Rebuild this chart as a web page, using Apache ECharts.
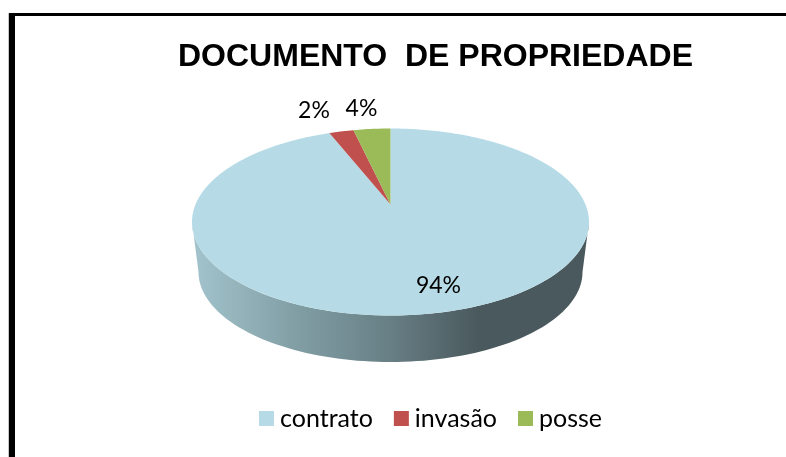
<!DOCTYPE html>
<html>
<head>
<meta charset="utf-8">
<style>
  html, body { margin: 0; padding: 0; background: #fff; }
  #chart { width: 786px; height: 457px; }
</style>
<script src="https://cdn.jsdelivr.net/npm/echarts@6/dist/echarts.min.js"></script>
</head>
<body>
<div id="chart"></div>
<script>
// data (labels are rounded)
const categories = ['contrato', 'invasão', 'posse'];
const values = [94, 2.4, 3.6];
const valueLabels = ['94%', '2%', '4%'];
const colors = ['#b6dbe6', '#c0504d', '#9bbb59'];

// 3D look of the disc
const cx = 390.5, cy = 222, rx = 198.5, ry = 93.5;
const botCy = 272, botRx = 192, botRy = 90;
const apexY = 204.5;
// tilt makes the far side of the pie look compressed
const k = Math.tan((Math.acos((cy - apexY) / ry)) / 2);
const labelPos = [[438.5, 285.5], [314, 111], [361.5, 108.5]];

const total = values.reduce((a, b) => a + b, 0);

// share of the pie (0..1 clockwise from top) -> point on the top ellipse
function rimPoint(share) {
  const phi = share * 2 * Math.PI;
  const t = 2 * Math.atan2(k * Math.sin(phi / 2), Math.cos(phi / 2));
  return [cx + rx * Math.sin(t), cy - ry * Math.cos(t)];
}

function wallPoints() {
  const pts = [];
  for (let a = 0; a <= 180; a += 2) {
    const t = a * Math.PI / 180;
    pts.push([cx + rx * Math.cos(t), cy + ry * Math.sin(t)]);
  }
  for (let a = 180; a >= 0; a -= 2) {
    const t = a * Math.PI / 180;
    pts.push([cx + botRx * Math.cos(t), botCy + botRy * Math.sin(t)]);
  }
  return pts;
}

function sliceItem(index) {
  const start = values.slice(0, index).reduce((a, b) => a + b, 0) / total;
  return function (params, api) {
    const end = start + api.value(0) / total;
    const pts = [[cx, apexY]];
    const steps = Math.max(4, Math.ceil((end - start) * 360));
    for (let i = 0; i <= steps; i++) {
      pts.push(rimPoint(start + (end - start) * i / steps));
    }
    const children = [];
    if (index === 0) {
      children.push({
        type: 'polygon',
        shape: { points: wallPoints() },
        style: {
          fill: new echarts.graphic.LinearGradient(0, 0, 1, 0, [
            { offset: 0, color: '#a3c4cd' },
            { offset: 0.25, color: '#83a0a7' },
            { offset: 0.5, color: '#677f85' },
            { offset: 0.72, color: '#4a595d' },
            { offset: 1, color: '#4a595d' }
          ])
        }
      });
    }
    children.push({
      type: 'polygon',
      shape: { points: pts },
      style: { fill: colors[index] }
    });
    children.push({
      type: 'text',
      z2: 10,
      style: {
        x: labelPos[index][0],
        y: labelPos[index][1],
        text: valueLabels[index],
        fill: '#000',
        font: '23px Lato',
        align: 'center',
        verticalAlign: 'middle'
      }
    });
    return { type: 'group', children: children };
  };
}

const chart = echarts.init(document.getElementById('chart'));
chart.setOption({
  backgroundColor: '#fff',
  animation: false,
  title: {
    text: 'DOCUMENTO  DE PROPRIEDADE',
    left: 173,
    top: 36,
    textStyle: { fontFamily: 'Liberation Sans', fontWeight: 'bold', fontSize: 32, color: '#000' }
  },
  legend: {
    data: categories,
    left: 254,
    top: 401,
    icon: 'rect',
    itemWidth: 15,
    itemHeight: 15,
    itemGap: 21,
    selectedMode: false,
    textStyle: { fontFamily: 'Lato', fontSize: 25, color: '#000', padding: [0, 0, 0, 1] }
  },
  graphic: [
    { type: 'rect', shape: { x: 8, y: 13, width: 1, height: 444 }, style: { fill: '#c8c8c8' } },
    { type: 'rect', shape: { x: 9, y: 13, width: 6, height: 444 }, style: { fill: '#000' } },
    { type: 'rect', shape: { x: 9, y: 13, width: 777, height: 3 }, style: { fill: '#000' } }
  ],
  series: categories.map((name, i) => ({
    name: name,
    type: 'custom',
    coordinateSystem: 'none',
    itemStyle: { color: colors[i] },
    renderItem: sliceItem(i),
    data: [values[i]],
    silent: true
  }))
});
</script>
</body>
</html>
